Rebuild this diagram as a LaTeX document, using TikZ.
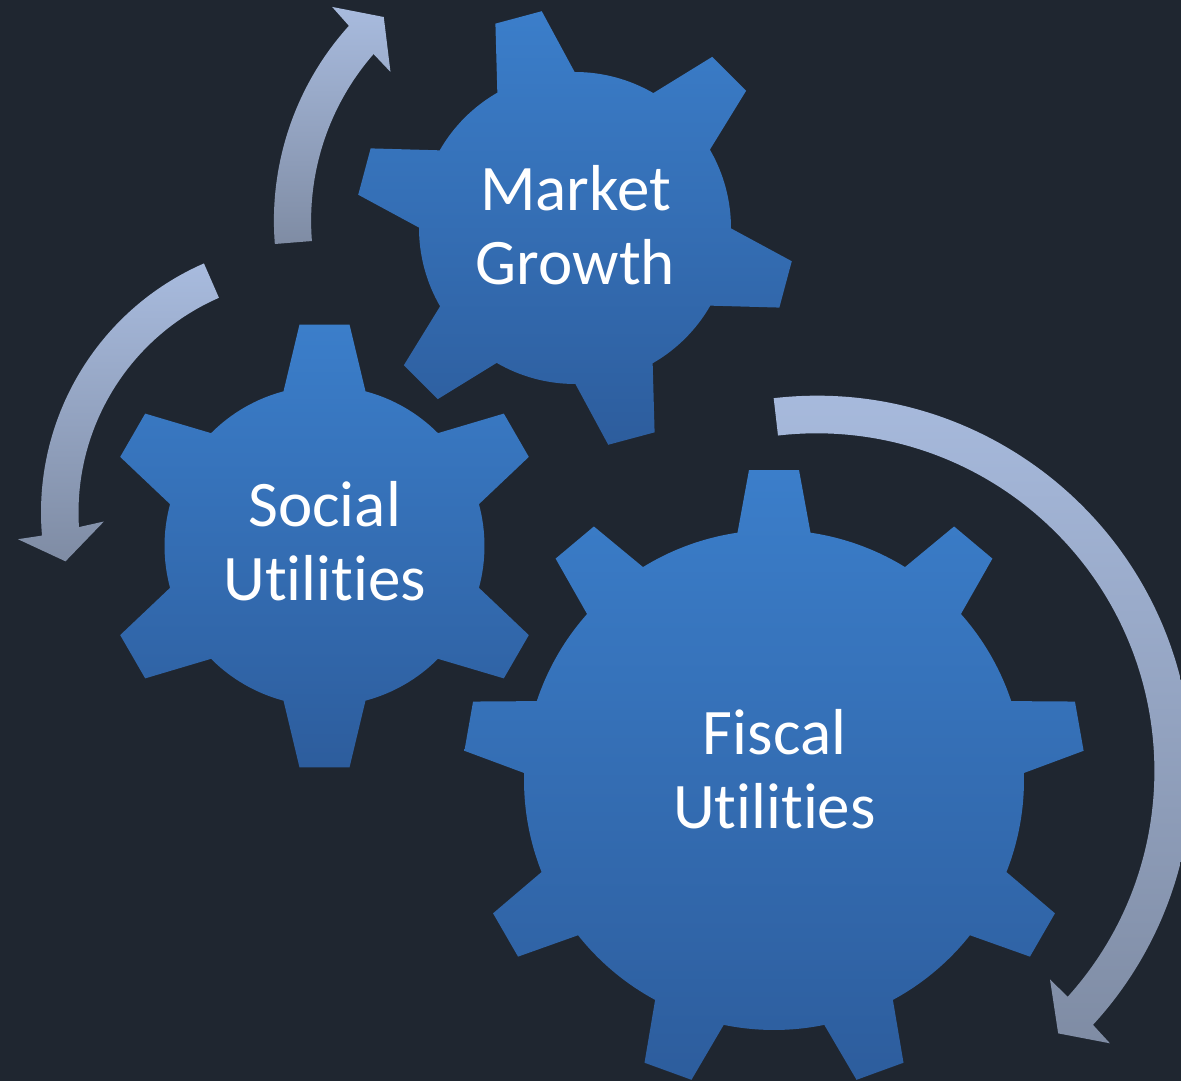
\documentclass[tikz,border=0pt]{standalone}
\usepackage{fontspec}
\setmainfont{Carlito}[Ligatures=NoCommon]
\usetikzlibrary{positioning}

\definecolor{bgdark}{RGB}{31,38,48}
\definecolor{gearblue}{RGB}{59,126,202}
\definecolor{geardeep}{RGB}{45,93,157}
\definecolor{arrowlight}{RGB}{168,187,222}
\definecolor{arrowgray}{RGB}{127,140,164}

% gear: teeth, first tooth angle, tip radius, body radius, tip half width, base half width
\tikzset{
    pics/gear/.style n args={6}{code={
        \pgfmathsetmacro\gearstep{360/#1}
        \pgfmathsetmacro\gearlast{int(#1-1)}
        \pgfmathsetmacro\gearhalf{asin(#6/#4)}
        \pgfmathsetmacro\geartip{atan(#5/#3)}
        \pgfmathsetmacro\gearrt{veclen(#3,#5)}
        \pgfmathsetmacro\geargap{\gearstep-2*\gearhalf}
        \shade[gearshade] ({#2-\gearhalf}:#4)
            \foreach \k [evaluate=\k as \ta using #2+\k*\gearstep] in {0,...,\gearlast}{
                -- ({\ta-\geartip}:\gearrt) -- ({\ta+\geartip}:\gearrt) -- ({\ta+\gearhalf}:#4)
                arc[start angle=\ta+\gearhalf, delta angle=\geargap, radius=#4]
            } -- cycle;
    }}
}

\begin{document}
\begin{tikzpicture}[
        x=1pt, y=1pt,
        gearshade/.style={top color=gearblue, bottom color=geardeep},
        cyclearrow/.style={top color=arrowlight, bottom color=arrowgray},
        gtext/.style={text=white, font=\fontsize{65}{74}\selectfont, align=center, inner sep=0pt}
    ]
        % Background
        \clip (0,0) rectangle (1181,1081);
        \fill[bgdark] (0,0) rectangle (1181,1081);

        % Gears
        \pic at (575,853) {gear={6}{105}{218}{156}{24}{40}};
        \pic at (324.5,535) {gear={6}{90}{221.5}{160}{25}{41}};
        \pic at (774,301) {gear={9}{90}{310}{250}{25}{36.5}};

        % Gear labels
        \node[gtext] (market) at (575.5,855.9) {Market\\Growth};
        \node[gtext] (social) at (324.7,539.7) {Social\\Utilities};
        \node[gtext] (fiscal) at (774.5,311.4) {Fiscal\\Utilities};

        % Arrows
        \shade[cyclearrow, shift={(564.6,860.3)}] (184.6:290.7)
            arc[start angle=184.6, end angle=137.9, radius=290.7]
            -- (137.4:315.8) -- (131.6:272.4) -- (139.5:229) -- (138.9:253.5)
            arc[start angle=138.9, end angle=184.6, radius=253.5] -- cycle;
        \shade[cyclearrow, shift={(312.7,568.6)}] (113.6:271.7)
            arc[start angle=113.6, end angle=184.9, radius=271.7]
            -- (185.2:296) -- (191.2:252) -- (182.5:209) -- (183.6:234.2)
            arc[start angle=183.6, end angle=113.6, radius=234.2] -- cycle;
        \shade[cyclearrow, shift={(816.8,310.1)}] (96.6:375.2)
            arc[start angle=96.6, end angle=-42.6, radius=375.2]
            -- (-42.9:400.2) -- (-47.4:356.6) -- (-41.8:312.8) -- (-42:337.6)
            arc[start angle=-42, end angle=96.6, radius=337.6] -- cycle;
\end{tikzpicture}
\end{document}
